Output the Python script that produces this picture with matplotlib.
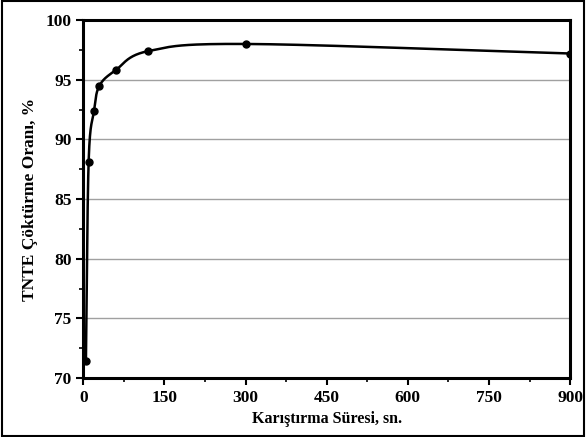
import numpy as np
import matplotlib
matplotlib.use("Agg")
import matplotlib.pyplot as plt
from matplotlib.ticker import MultipleLocator

# Karıştırma süresi (sn) ve TNTE çöktürme oranı (%)
sure = [5, 10, 20, 30, 60, 120, 300, 900]
oran = [71.4, 88.1, 92.4, 94.5, 95.8, 97.4, 98.0, 97.2]

x_ticks = [0, 150, 300, 450, 600, 750, 900]
y_ticks = [70, 75, 80, 85, 90, 95, 100]


def catmull_rom(xs, ys, xr, yr, n=40):
    # Excel tarzı yumuşatılmış çizgi (ekran oranına göre normalize)
    px = np.array(xs, float) / xr
    py = np.array(ys, float) / yr
    px = np.concatenate([[2 * px[0] - px[1]], px, [2 * px[-1] - px[-2]]])
    py = np.concatenate([[2 * py[0] - py[1]], py, [2 * py[-1] - py[-2]]])
    out_x, out_y = [], []
    t = np.linspace(0, 1, n)
    for i in range(1, len(px) - 2):
        for arr, out in ((px, out_x), (py, out_y)):
            p0, p1, p2, p3 = arr[i - 1], arr[i], arr[i + 1], arr[i + 2]
            seg = 0.5 * ((2 * p1) + (-p0 + p2) * t
                         + (2 * p0 - 5 * p1 + 4 * p2 - p3) * t ** 2
                         + (-p0 + 3 * p1 - 3 * p2 + p3) * t ** 3)
            out.extend(seg)
    return np.array(out_x) * xr, np.array(out_y) * yr


plt.rcParams["font.family"] = ["Liberation Serif", "DejaVu Serif"]
plt.rcParams["font.weight"] = "bold"

fig = plt.figure(figsize=(5.86, 4.37), dpi=100)
ax = fig.add_axes([0.142, 0.135, 0.831, 0.819])

sx, sy = catmull_rom(sure, oran, 900 / 487, 30 / 358)
ax.plot(sx, sy, color="black", linewidth=1.8, zorder=3)
ax.plot(sure, oran, "o", color="black", markersize=5, zorder=4)

ax.set_xlim(0, 900)
ax.set_ylim(70, 100)
ax.set_xticks(x_ticks)
ax.set_yticks(y_ticks)
ax.xaxis.set_minor_locator(MultipleLocator(75))
ax.yaxis.set_minor_locator(MultipleLocator(2.5))
ax.tick_params(which="major", direction="out", length=5, width=1.5, labelsize=12.5)
ax.tick_params(which="minor", direction="out", length=3, width=1.2)
ax.yaxis.grid(True, color="#a0a0a0", linewidth=1.0)
ax.set_axisbelow(True)
for s in ax.spines.values():
    s.set_linewidth(2.2)

ax.set_xlabel("Karıştırma Süresi, sn.", fontsize=11.5, fontweight="bold", labelpad=4)
ax.set_ylabel("TNTE Çöktürme Oranı, %", fontsize=12.5, fontweight="bold", labelpad=5)

# Dış çerçeve
fig.patches.append(plt.Rectangle((0.003, 0.003), 0.994, 0.994, transform=fig.transFigure,
                                 fill=False, edgecolor="black", linewidth=1.5))

fig.savefig("out.png", dpi=100)
